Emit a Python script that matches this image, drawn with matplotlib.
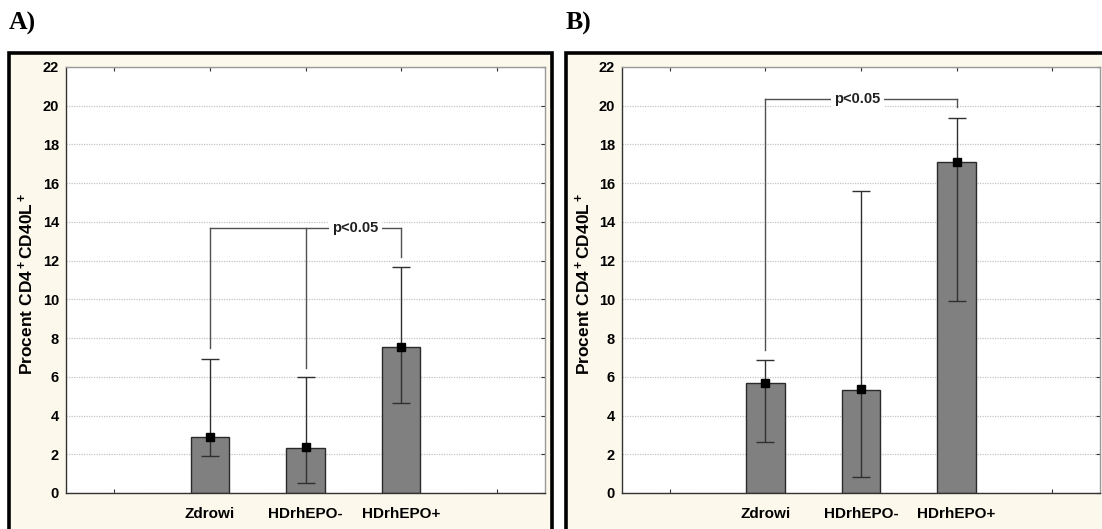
import matplotlib
matplotlib.use("Agg")
import matplotlib.pyplot as plt
from matplotlib.patches import Rectangle
from matplotlib import font_manager

# ---- data ----
categories = ["Zdrowi", "HDrhEPO-", "HDrhEPO+"]
A_bar = [2.88, 2.32, 7.53]
A_mean = [2.90, 2.35, 7.53]
A_low = [1.90, 0.50, 4.66]
A_high = [6.90, 5.98, 11.65]
B_bar = [5.69, 5.32, 17.11]
B_mean = [5.69, 5.36, 17.10]
B_low = [2.63, 0.82, 9.90]
B_high = [6.89, 15.62, 19.36]
# significance brackets: (y level, list of (x index, drop-to y))
A_bracket_y = 13.7
A_drops = [(0, 7.48), (1, 6.43), (2, 12.17)]
A_text_x = 1.52
B_bracket_y = 20.37
B_drops = [(0, 7.39), (2, 19.95)]
B_text_x = 0.96
y_ticks = list(range(0, 23, 2))
panel_labels = ["A)", "B)"]

avail = {f.name for f in font_manager.fontManager.ttflist}
narrow = "Liberation Sans Narrow" if "Liberation Sans Narrow" in avail else "Liberation Sans"

plt.rcParams["mathtext.fontset"] = "custom"
plt.rcParams["mathtext.rm"] = "Liberation Sans:bold"
plt.rcParams["mathtext.bf"] = "Liberation Sans:bold"
plt.rcParams["mathtext.it"] = "Liberation Sans:bold"

W, H = 1102, 529
fig = plt.figure(figsize=(W / 100, H / 100), dpi=100)
fig.patch.set_facecolor("white")

cream = "#fcf8ec"
frames = [(9, 53, 552), (566, 53, 1110)]
axes_px = [(66, 545), (622, 1100)]
top_px, bot_px = 67, 493

def fx(px):
    return px / W

def fy(py):
    return 1 - py / H

for (x0, y0, x1) in frames:
    r = Rectangle((fx(x0), fy(H + 10)), fx(x1) - fx(x0), fy(y0) - fy(H + 10),
                  transform=fig.transFigure, facecolor=cream, edgecolor="black",
                  linewidth=2.6, zorder=0)
    fig.add_artist(r)

datasets = [
    (A_bar, A_mean, A_low, A_high, A_bracket_y, A_drops, A_text_x),
    (B_bar, B_mean, B_low, B_high, B_bracket_y, B_drops, B_text_x),
]

for i, (bars, means, lows, highs, by, drops, tx) in enumerate(datasets):
    l, r = axes_px[i]
    ax = fig.add_axes([fx(l), fy(bot_px), fx(r) - fx(l), fy(top_px) - fy(bot_px)])
    ax.set_facecolor("white")
    pos = [k + 1 for k in range(len(categories))]
    ax.set_xlim(-0.5, 4.5)
    ax.set_ylim(0, 22)
    ax.yaxis.grid(True, linestyle=(0, (1, 1)), color="#c4c4c4", linewidth=0.9, zorder=0)
    ax.set_axisbelow(True)
    ax.bar(pos, bars, width=0.40, color="#808080", edgecolor="#2a2a2a", linewidth=1.0, zorder=2)
    yerr = [[m - lo for m, lo in zip(means, lows)], [hi - m for m, hi in zip(means, highs)]]
    ax.errorbar(pos, means, yerr=yerr, fmt="s", color="black", markersize=5.5,
                ecolor="#303030", elinewidth=1.0, capsize=6.8, capthick=1.0, zorder=3)
    # bracket
    xs = [pos[d[0]] for d in drops]
    ax.plot([min(xs), max(xs)], [by, by], color="#505050", linewidth=1.0, zorder=3)
    for (k, yd) in drops:
        ax.plot([pos[k], pos[k]], [yd, by], color="#505050", linewidth=1.0, zorder=3)
    ax.text(pos[0] + tx, by, "p<0.05", ha="center", va="center", fontsize=10.5,
            family=narrow, fontweight="bold", color="#202020", zorder=4,
            bbox=dict(facecolor="white", edgecolor="none", pad=2.5))
    ax.set_xticks([0, 1, 2, 3, 4])
    ax.set_xticklabels([""] + categories + [""], fontsize=11, fontweight="bold",
                       family="Liberation Sans")
    ax.set_yticks(y_ticks)
    ax.set_yticklabels([str(v) for v in y_ticks], fontsize=10.5, fontweight="bold",
                       family="Liberation Sans")
    ax.tick_params(axis="both", direction="in", length=3, width=0.8, top=True, right=True,
                   color="#333333", pad=6)
    ax.tick_params(axis="y", left=False, pad=5)
    ax.tick_params(axis="x", pad=10)
    for s in ["left", "bottom"]:
        ax.spines[s].set_color("#333333")
        ax.spines[s].set_linewidth(1.0)
    for s in ["top", "right"]:
        ax.spines[s].set_color("#9a9a9a")
        ax.spines[s].set_linewidth(1.0)
    ax.set_ylabel("Procent CD4$^+$CD40L$^+$", fontsize=12.5,
                  fontweight="bold", family="Liberation Sans")
    lab_px = frames[i][0] + 27
    ax.yaxis.set_label_coords((lab_px - l) / (r - l), 0.49)
    fig.text(fx(frames[i][0]), fy(30), panel_labels[i], fontsize=18.5, fontweight="bold",
             family="Liberation Serif", ha="left", va="baseline")

fig.savefig("out.png", dpi=100)
